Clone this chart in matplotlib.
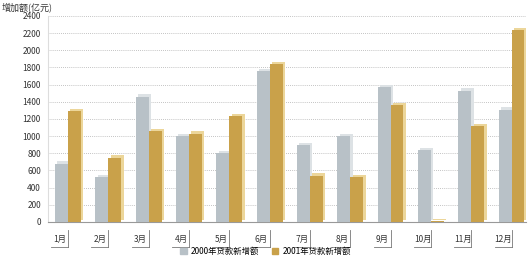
import numpy as np
import matplotlib.pyplot as plt
import matplotlib.transforms as mtransforms
from matplotlib.patches import Patch

plt.rcParams['font.family'] = ['Noto Sans CJK SC', 'DejaVu Sans']

# data (亿元)
months = ['1月', '2月', '3月', '4月', '5月', '6月', '7月', '8月', '9月', '10月', '11月', '12月']
loans_2000 = [680, 520, 1460, 1000, 800, 1760, 900, 1000, 1570, 840, 1530, 1310]
loans_2001 = [1290, 750, 1060, 1030, 1230, 1840, 540, 520, 1360, 10, 1120, 2240]
series_names = ['2000年贷款新增额', '2001年贷款新增额']

grey, grey_light = '#b8c1c7', '#dde2e5'
gold, gold_light = '#c9a14a', '#ecd69a'

fig = plt.figure(figsize=(5.31, 2.62), dpi=100)
ax = fig.add_axes([0.090, 0.153, 0.900, 0.786])

x = np.arange(len(months))
w = 0.32
dx, dy = 0.06, 25  # fake 3D depth

for xs, vals, c, cl in [(x - w / 2, loans_2000, grey, grey_light),
                        (x + w / 2, loans_2001, gold, gold_light)]:
    ax.bar(xs + dx, vals, w, bottom=dy, color=cl, zorder=2)
    ax.bar(xs, vals, w, color=c, zorder=3)

ax.set_ylim(0, 2400)
ax.set_xlim(-0.5, 11.35)
ax.set_yticks(range(0, 2401, 200))
ax.tick_params(axis='y', labelsize=6, length=0, pad=5, colors='#333333')
ax.set_xticks([])
ax.yaxis.grid(True, linestyle=(0, (1, 1.5)), color='#b0b0b0', linewidth=0.6, zorder=0)
for s in ['top', 'right']:
    ax.spines[s].set_visible(False)
ax.spines['left'].set_color('#dddddd')
ax.spines['bottom'].set_color('#999999')
ax.spines['bottom'].set_linewidth(0.8)

# bracketed month labels below the axis
trans = mtransforms.blended_transform_factory(ax.transData, ax.transAxes)
for i, m in enumerate(months):
    ax.text(i - 0.2, -0.085, m, transform=trans, ha='center', va='center',
            fontsize=6, color='#333333')
    ax.plot([i - 0.42, i], [-0.12, -0.12], transform=trans, color='#777777',
            lw=0.6, clip_on=False)
    ax.plot([i, i], [-0.12, -0.04], transform=trans, color='#777777',
            lw=0.6, clip_on=False)

fig.text(0.003, 0.99, '增加额(亿元)', ha='left', va='top', fontsize=6.5, color='#333333')

handles = [Patch(color=grey), Patch(color=gold)]
fig.legend(handles, series_names, loc='lower center', bbox_to_anchor=(0.5, -0.005),
           ncol=2, frameon=False, fontsize=6, handlelength=0.8, handleheight=0.8,
           columnspacing=1.5, handletextpad=0.5)

fig.savefig('out.png', dpi=100)
